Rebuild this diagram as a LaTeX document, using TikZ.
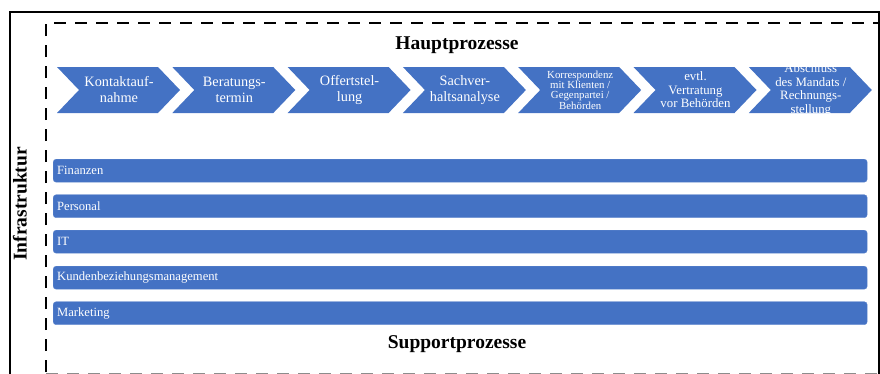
\documentclass[tikz,border=0pt]{standalone}
\usepackage{fontspec}
\setmainfont{Liberation Serif}
\definecolor{procblue}{RGB}{68,114,196}

\begin{document}
\begin{tikzpicture}[x=1pt, y=-1pt,
	title/.style={font=\fontsize{19.5}{20}\selectfont\bfseries, inner sep=0pt},
	chevtext/.style={text=white, align=center, inner sep=0pt},
	bar/.style={fill=procblue, draw=procblue!85!white, rounded corners=3pt, anchor=north west,
		minimum height=23pt, text width=806pt, inner xsep=4pt, inner ysep=0pt, align=left,
		text=white, font=\fontsize{12.6}{12.6}\selectfont}]
	\useasboundingbox (0,0) rectangle (880,373);
	\clip (0,0) rectangle (880,373);

% FRAMES
	\draw [line width=1.1pt] (10,400) -- (10,12) -- (879,12) -- (879,400);
	\draw [line width=2.6pt, dash pattern=on 12pt off 9pt] (46,372) -- (46,23) -- (1000,23);
	\draw [line width=2pt, dash pattern=on 12pt off 9pt, black!45] (46,373.5) -- (1000,373.5);

% TITLES
	\node [title] (haupt) at (457,45) {Hauptprozesse};
	\node [title] (support) at (457,344) {Supportprozesse};
	\node [title, rotate=90] (infra) at (20,204) {Infrastruktur};

% MAIN PROCESSES
	\foreach \i/\fs/\ls/\txt in {
		0/14.3/16/{Kontaktauf-\\nahme},
		1/14.3/16/{Beratungs-\\termin},
		2/14.3/16/{Offertstel-\\lung},
		3/14.3/16/{Sachver-\\haltsanalyse},
		4/10.8/9.6/{Korrespondenz\\mit Klienten /\\Gegenpartei /\\Behörden},
		5/12.8/13.5/{evtl.\\Vertratung\\vor Behörden},
		6/12.8/13.8/{Abschluss\\des Mandats /\\Rechnungs-\\stellung}} {
	\begin{scope}
		\clip (57+115.3*\i,67) --++ (101,0) --++ (22,23) --++ (-22,23)
		--++ (-101,0) --++ (22,-23) -- cycle;
		\fill [procblue] (50+115.3*\i,60) rectangle ++(140,60);
		\node [chevtext, font=\fontsize{\fs}{\ls}\selectfont] (p\i) at (119+115.3*\i,90) {\txt};
	\end{scope}
	}

% SUPPORT PROCESSES
	\foreach \y/\n/\txt in {159/fin/Finanzen, 194.5/pers/Personal, 230/it/IT,
		266/kbm/Kundenbeziehungsmanagement, 301.5/mark/Marketing}
	\node [bar] (\n) at (53,\y) {\txt};

\end{tikzpicture}
\end{document}
